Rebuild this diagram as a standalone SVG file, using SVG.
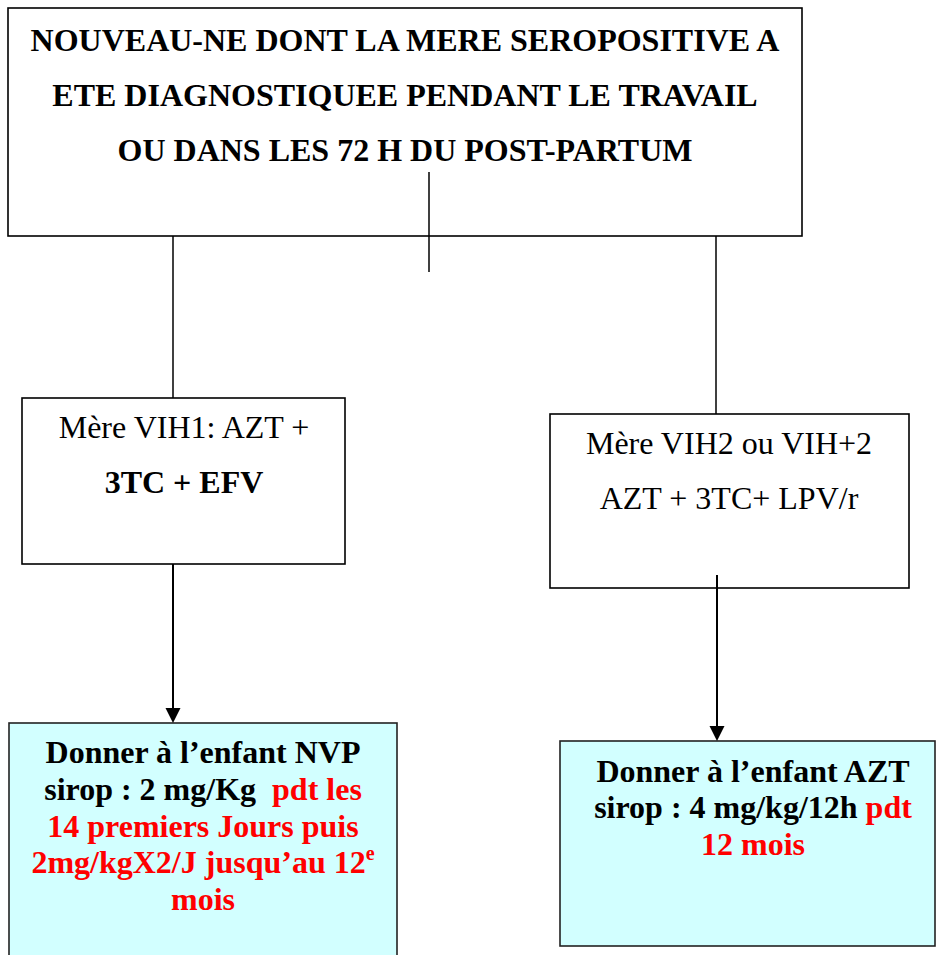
<svg xmlns="http://www.w3.org/2000/svg" width="937" height="955" viewBox="0 0 937 955">
<style>
.box{fill:#fff;stroke:#000;stroke-width:1.6}
.cyan{fill:#D2FFFF;stroke:#222;stroke-width:1.6}
text{font-family:"Liberation Serif","Times New Roman",serif;font-size:32px;text-anchor:middle;fill:#000}
.b{font-weight:bold}
.r{fill:#FF0000}
.ln{stroke:#000;stroke-width:1.5;fill:none}
.ar{stroke:#000;stroke-width:2;fill:none}
.head{fill:#000}
</style>
<g id="top">
<rect class="box" x="8" y="8" width="794" height="228"/>
<text class="b" x="405" y="51">NOUVEAU-NE DONT LA MERE SEROPOSITIVE A</text>
<text class="b" x="405" y="106">ETE DIAGNOSTIQUEE PENDANT LE TRAVAIL</text>
<text class="b" x="405" y="161">OU DANS LES 72 H DU POST-PARTUM</text>
</g>
<g id="vih1">
<rect class="box" x="22" y="398" width="323" height="166"/>
<text x="184" y="438">Mère VIH1: AZT +</text>
<text class="b" x="184" y="493">3TC + EFV</text>
</g>
<g id="vih2">
<rect class="box" x="550" y="414" width="359" height="174"/>
<text x="729" y="454">Mère VIH2 ou VIH+2</text>
<text x="729" y="509">AZT + 3TC+ LPV/r</text>
</g>
<g id="nvp">
<rect class="cyan" x="9" y="723" width="388" height="250"/>
<text class="b" x="203" y="763">Donner à l’enfant NVP</text>
<text class="b" x="203" y="800">sirop : 2 mg/Kg &#160;<tspan class="r">pdt les</tspan></text>
<text class="b r" x="203" y="837">14 premiers Jours puis</text>
<text class="b r" x="203" y="873">2mg/kgX2/J jusqu’au 12<tspan font-size="20" dy="-13">e</tspan></text>
<text class="b r" x="203" y="910">mois</text>
</g>
<g id="azt">
<rect class="cyan" x="560" y="741" width="375" height="205"/>
<text class="b" x="753" y="782">Donner à l’enfant AZT</text>
<text class="b" x="753" y="818">sirop : 4 mg/kg/12h <tspan class="r">pdt</tspan></text>
<text class="b r" x="753" y="855">12 mois</text>
</g>
<g id="connectors">
<line class="ln" x1="429" y1="172" x2="429" y2="272"/>
<line class="ln" x1="173" y1="236" x2="173" y2="398"/>
<line class="ln" x1="716" y1="236" x2="716" y2="414"/>
<line class="ar" x1="173" y1="564" x2="173" y2="710"/>
<polygon class="head" points="165.5,708 180.5,708 173,723"/>
<line class="ar" x1="717" y1="575" x2="717" y2="728"/>
<polygon class="head" points="709.5,726 724.5,726 717,741"/>
</g>
</svg>
